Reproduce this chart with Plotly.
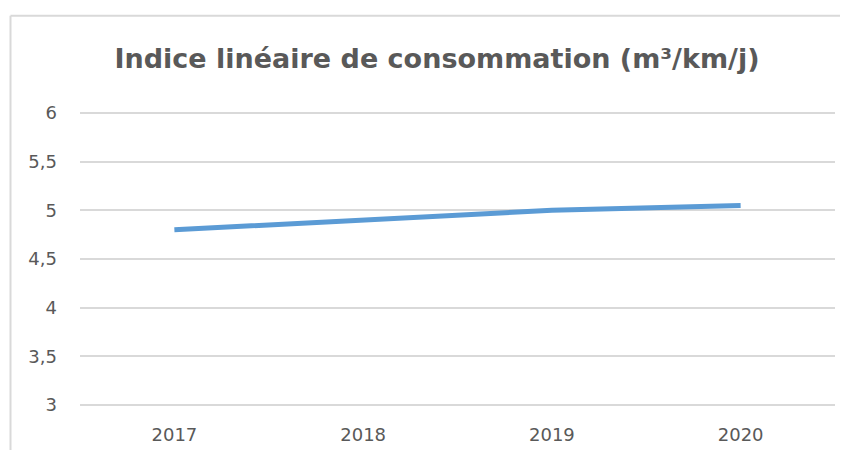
import plotly.graph_objects as go

annees = ["2017", "2018", "2019", "2020"]
indice = [4.8, 4.9, 5.0, 5.05]
y_ticks = [3, 3.5, 4, 4.5, 5, 5.5, 6]

titre = "Indice linéaire de consommation (m³/km/j)"

fig = go.Figure()
fig.add_trace(go.Scatter(
    x=annees, y=indice, mode="lines",
    line=dict(color="#5B9BD5", width=5),
    hoverinfo="x+y",
))

# the page body adds 8px around the figure: shift targets back and shrink so nothing scrolls
off = 8
W, H = 852 - 2 * off - 4, 464 - 2 * off - 6
y_lo, y_hi = 3, 6
ppu = (411 - 113) / (y_hi - y_lo)   # pixels per unit
pad = 0.03                          # small pad so the 3 and 6 gridlines are drawn
L, R = 80 - off, 835 - off
T = 113 - off - pad * ppu
B = 411 - off + pad * ppu
pw, ph = R - L, B - T

fig.update_layout(
    width=W, height=H,
    margin=dict(l=L, r=W - R, t=T, b=H - B),
    paper_bgcolor="white", plot_bgcolor="white",
    separators=", ",
    showlegend=False,
    font=dict(family="DejaVu Sans", color="#595959", size=18),
    title=dict(
        text="<b>" + titre + "</b>",
        x=(437 - off - L) / pw, xref="paper", xanchor="center",
        y=1 - (59 - off) / H, yref="container", yanchor="middle",
        font=dict(family="DejaVu Sans", size=27, color="#595959"),
    ),
    xaxis=dict(
        type="category", range=[-0.5, 3.5],
        showgrid=False, zeroline=False, showline=False,
        ticks="", ticklabelstandoff=int(round(17 - pad * ppu)),
    ),
    yaxis=dict(
        range=[y_lo - pad, y_hi + pad], tickvals=y_ticks,
        showgrid=True, gridcolor="#D9D9D9", gridwidth=1.5,
        zeroline=False, showline=False, ticks="",
        ticklabelstandoff=22,
    ),
    # chart-area border: only top and left edges are visible in the crop
    shapes=[
        dict(type="line", xref="paper", yref="paper",
             x0=(10.5 - off - L) / pw, x1=(W + 20 - L) / pw,
             y0=(B - (14 - off)) / ph, y1=(B - (14 - off)) / ph,
             line=dict(color="#D9D9D9", width=2)),
        dict(type="line", xref="paper", yref="paper",
             x0=(10.5 - off - L) / pw, x1=(10.5 - off - L) / pw,
             y0=-(H + 20 - B) / ph, y1=(B - (14 - off)) / ph,
             line=dict(color="#D9D9D9", width=2)),
    ],
)

fig.write_html("out.html")
